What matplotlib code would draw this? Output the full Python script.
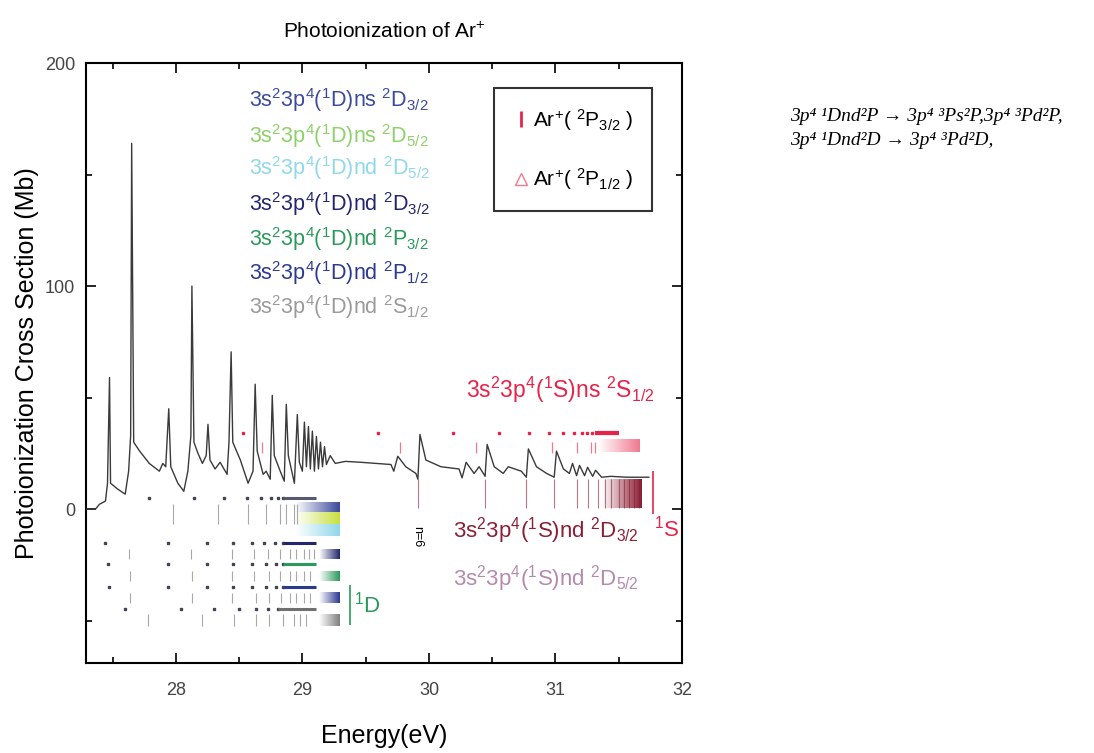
import numpy as np
import matplotlib
matplotlib.use("Agg")
import matplotlib.pyplot as plt
from matplotlib.lines import Line2D
from matplotlib.colors import LinearSegmentedColormap
from matplotlib.ticker import MultipleLocator

plt.rcParams["font.family"] = ["Liberation Sans", "DejaVu Sans"]
plt.rcParams["mathtext.fontset"] = "custom"
plt.rcParams["mathtext.rm"] = "Liberation Sans"
plt.rcParams["mathtext.it"] = "Liberation Sans:italic"
plt.rcParams["mathtext.bf"] = "Liberation Sans:bold"

# Spectrum: photon energy (eV) and cross section (Mb)
energy = [27.29, 27.365, 27.397, 27.444, 27.46, 27.476, 27.484, 27.54, 27.60, 27.627,
          27.643, 27.651, 27.667, 27.714, 27.79, 27.87, 27.897, 27.92, 27.944, 27.96,
          28.016, 28.063, 28.095, 28.119, 28.127, 28.143, 28.175, 28.21, 28.24, 28.254,
          28.27, 28.31, 28.35, 28.405, 28.42, 28.437, 28.45, 28.51, 28.571, 28.61,
          28.627, 28.643, 28.69, 28.714, 28.746, 28.762, 28.778, 28.825, 28.857, 28.873,
          28.889, 28.937, 28.96, 28.976, 29.0, 29.016, 29.032, 29.048, 29.063, 29.079,
          29.095, 29.111, 29.127, 29.143, 29.159, 29.175, 29.19, 29.22, 29.26, 29.34,
          29.46, 29.70, 29.722, 29.754, 29.817, 29.897, 29.913, 29.929, 29.976, 30.095,
          30.238, 30.262, 30.294, 30.357, 30.397, 30.444, 30.46, 30.516, 30.587, 30.627,
          30.73, 30.77, 30.786, 30.85, 30.93, 30.99, 31.008, 31.063, 31.11, 31.135,
          31.167, 31.19, 31.23, 31.254, 31.294, 31.317, 31.365, 31.44, 31.56, 31.738]
sigma = [0, 0, 2.2, 3.6, 11.6, 59, 11.6, 9, 6.7, 17,
         33, 164, 30, 26, 20.5, 17, 20.5, 19, 45, 19,
         11.6, 8, 17, 33, 100, 30, 25, 20.5, 24, 38,
         22, 18, 21, 15.6, 30, 70.5, 30, 22, 11.6, 17,
         56, 26, 15.6, 17, 13.4, 51, 24, 17, 12.5, 47,
         24, 11.6, 42.4, 21, 17, 39, 19, 37, 18, 35,
         17, 32.6, 18, 30, 19, 28, 20, 24, 20.5, 21.4,
         21, 20, 17, 23.7, 19, 16, 13.4, 33.5, 22, 19,
         18, 14, 21, 16, 19, 14.7, 29, 19, 16, 19,
         17, 14.3, 27, 19, 16, 14.3, 26, 18, 16, 20.5,
         15, 19.6, 15, 18.75, 14.7, 17.4, 14.3, 14.7, 14.3, 14.3]

# Resonance positions (eV) of the 3s2 3p4(1D) series: dots and ticks of each row
ns32_dots = [27.79, 28.14, 28.38, 28.56, 28.67, 28.75, 28.81, 28.85]
ns32_ticks = [27.98, 28.33, 28.57, 28.71, 28.82, 28.87, 28.93, 28.96]
nd32_dots = [27.44, 27.94, 28.25, 28.45, 28.60, 28.70, 28.78, 28.85]
nd32_ticks = [27.63, 28.12, 28.44, 28.62, 28.73, 28.82, 28.90, 28.95, 29.01, 29.05, 29.09]
ndp32_dots = [27.46, 27.94, 28.25, 28.45, 28.60, 28.71, 28.79, 28.85]
ndp32_ticks = [27.64, 28.13, 28.44, 28.62, 28.74, 28.82, 28.90, 28.95, 29.01, 29.06]
ndp12_dots = [27.47, 27.94, 28.25, 28.45, 28.60, 28.71, 28.79, 28.85]
ndp12_ticks = [27.64, 28.13, 28.44, 28.63, 28.74, 28.83, 28.90, 28.95, 29.01, 29.06]
nds12_dots = [27.60, 28.04, 28.30, 28.50, 28.63, 28.73, 28.81]
nds12_ticks = [27.78, 28.21, 28.46, 28.63, 28.74, 28.85, 28.93, 28.98, 29.03]

# 3s2 3p4(1S) series
s_ns_p32 = [28.53, 29.60, 30.19, 30.55, 30.79, 30.95, 31.06, 31.15, 31.21, 31.25, 31.29]
s_ns_p12 = [28.68, 29.77, 30.37, 30.97, 31.17, 31.28, 31.31]
s_nd_ticks = [29.91, 30.44, 30.77, 30.99, 31.17, 31.26, 31.34, 31.39, 31.44, 31.50,
              31.54, 31.58, 31.62, 31.66]

limit_1D = 29.38
limit_1S = 31.77

series_labels = [r"3s$^2$3p$^4$($^1$D)ns $^2$D$_{3/2}$",
                 r"3s$^2$3p$^4$($^1$D)ns $^2$D$_{5/2}$",
                 r"3s$^2$3p$^4$($^1$D)nd $^2$D$_{5/2}$",
                 r"3s$^2$3p$^4$($^1$D)nd $^2$D$_{3/2}$",
                 r"3s$^2$3p$^4$($^1$D)nd $^2$P$_{3/2}$",
                 r"3s$^2$3p$^4$($^1$D)nd $^2$P$_{1/2}$",
                 r"3s$^2$3p$^4$($^1$D)nd $^2$S$_{1/2}$"]
series_colors = ["#3b4a9c", "#8fd06a", "#8fd8ea", "#23266e", "#2a9a5a", "#2b3990", "#9a9a9a"]

red = "#e8234a"
pink = "#f07a90"
darkred = "#8a1f35"
mauve = "#b58aae"


def grad_box(ax, x0, x1, y0, y1, color):
    cmap = LinearSegmentedColormap.from_list("g", ["white", color])
    ax.imshow(np.linspace(0, 1, 60)[None, :], cmap=cmap, extent=(x0, x1, y0, y1),
              aspect="auto", interpolation="bilinear", zorder=2)


fig = plt.figure(figsize=(10.94, 7.53), dpi=100)
ax = fig.add_axes([0.0786, 0.1195, 0.5448, 0.7968])

# spectrum
ax.plot(energy, sigma, color="#3a3a3a", lw=1.0, zorder=5)

# 1D rows: (dots, ticks, dot level, tick range, colour)
rows = [(ns32_dots, ns32_ticks, 4.9, (-6.7, 2.2), "#555a70"),
        (nd32_dots, nd32_ticks, -15.2, (-22.3, -17.9), series_colors[3]),
        (ndp32_dots, ndp32_ticks, -24.6, (-32.1, -27.7), series_colors[4]),
        (ndp12_dots, ndp12_ticks, -34.8, (-42.0, -37.5), series_colors[5]),
        (nds12_dots, nds12_ticks, -44.6, (-52.2, -46.9), "#707070")]
for dots, ticks, yd, (t0, t1), col in rows:
    ax.plot(dots, [yd] * len(dots), ls="none", marker="s", ms=2, color="#444455", zorder=3)
    ax.hlines(yd, dots[-1], 29.11, color=col, lw=2.2, zorder=3)
    ax.vlines(ticks, t0, t1, color="#a8a8a8", lw=0.8, zorder=3)

grad_box(ax, 28.94, 29.29, -1.5, 2.7, series_colors[0])
grad_box(ax, 28.94, 29.29, -7.0, -1.5, "#c8e040")
grad_box(ax, 28.94, 29.29, -12.0, -7.0, series_colors[2])
grad_box(ax, 29.13, 29.29, -22.3, -17.9, series_colors[3])
grad_box(ax, 29.13, 29.29, -32.1, -27.7, series_colors[4])
grad_box(ax, 29.13, 29.29, -42.0, -37.5, series_colors[5])
grad_box(ax, 29.13, 29.29, -52.2, -46.9, "#808080")

# 1S rows
ax.plot(s_ns_p32, [34] * len(s_ns_p32), ls="none", marker="s", ms=2, color=red, zorder=3)
ax.hlines(34, 31.31, 31.50, color=red, lw=3, zorder=3)
ax.vlines(s_ns_p12, 25, 30, color=pink, lw=0.9, zorder=3)
grad_box(ax, 31.34, 31.67, 25.5, 31, pink)
ax.vlines(s_nd_ticks, 0.5, 13.5, color=darkred, lw=0.8, alpha=0.6, zorder=3)
grad_box(ax, 31.37, 31.68, 0.5, 13.5, darkred)

# series limits
ax.vlines(limit_1D, -52, -34, color="#2a9a5a", lw=1.2)
ax.text(limit_1D + 0.03, -43, r"$^1$D", color="#2a9a5a", fontsize=16, va="center")
ax.vlines(limit_1S, -2, 17, color=red, lw=1.2)
ax.text(limit_1S + 0.01, -8.5, r"$^1$S", color=red, fontsize=16, va="center")
ax.text(29.91, -12.5, "n=6", rotation=270, fontsize=9, ha="center", va="center")

# labels
label_y = [183.5, 167.4, 152.7, 136.6, 121, 106, 90.6]
for txt, col, yy in zip(series_labels, series_colors, label_y):
    ax.text(28.58, yy, txt, color=col, fontsize=15.5, va="center")
ax.text(30.29, 53.6, r"3s$^2$3p$^4$($^1$S)ns $^2$S$_{1/2}$", color=red, fontsize=16.5, va="center")
ax.text(30.19, -9.8, r"3s$^2$3p$^4$($^1$S)nd $^2$D$_{3/2}$", color=darkred, fontsize=16, va="center")
ax.text(30.19, -31, r"3s$^2$3p$^4$($^1$S)nd $^2$D$_{5/2}$", color=mauve, fontsize=16, va="center")

handles = [Line2D([], [], ls="none", marker="|", ms=11, mew=2, color=red),
           Line2D([], [], ls="none", marker="^", ms=8, mfc="none", color=pink)]
leg = ax.legend(handles, [r"Ar$^{+}$( $^{2}$P$_{3/2}$ )", r"Ar$^{+}$( $^{2}$P$_{1/2}$ )"],
                loc="upper right", bbox_to_anchor=(0.95, 0.958), borderaxespad=0,
                fontsize=15, frameon=True, fancybox=False, edgecolor="black",
                labelspacing=1.6, handletextpad=0.2, handlelength=0.8, borderpad=0.9)
leg.get_frame().set_linewidth(1.5)
leg.set_zorder(6)

ax.set_xlim(27.29, 32.0)
ax.set_ylim(-69, 200)
ax.xaxis.set_major_locator(MultipleLocator(1))
ax.xaxis.set_minor_locator(MultipleLocator(0.5))
ax.yaxis.set_major_locator(MultipleLocator(100))
ax.yaxis.set_minor_locator(MultipleLocator(50))
ax.tick_params(which="both", direction="in", top=True, right=True, labelsize=13,
               labelcolor="#444444", width=1.2)
ax.tick_params(which="major", length=7)
ax.tick_params(which="minor", length=4)
ax.tick_params(axis="x", pad=14)
ax.tick_params(axis="y", pad=8)
for s in ax.spines.values():
    s.set_linewidth(1.5)

ax.set_title(r"Photoionization of Ar$^{+}$", fontsize=15, pad=18)
ax.set_xlabel("Energy(eV)", fontsize=18, labelpad=18)
ax.set_ylabel("Photoionization Cross Section (Mb)", fontsize=18, labelpad=4)

fig.text(0.722, 0.845, "3p⁴ ¹Dnd²P → 3p⁴ ³Ps²P,3p⁴ ³Pd²P,", fontsize=14,
         family=["Liberation Serif", "DejaVu Serif"], style="italic", va="center")
fig.text(0.722, 0.814, "3p⁴ ¹Dnd²D → 3p⁴ ³Pd²D,", fontsize=14,
         family=["Liberation Serif", "DejaVu Serif"], style="italic", va="center")

fig.savefig("out.png", dpi=100)
